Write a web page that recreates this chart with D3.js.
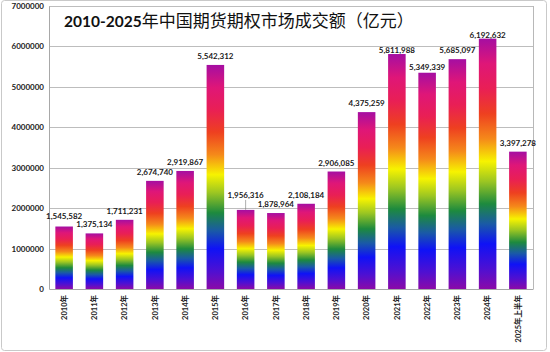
<!DOCTYPE html>
<html>
<head>
<meta charset="utf-8">
<script src="https://cdn.jsdelivr.net/npm/d3@7"></script>
<style>
  html, body { margin: 0; padding: 0; background: #fff; }
  svg { display: block; }
</style>
</head>
<body>
<div id="chart"></div>
<script>
// 年份（横轴）
const years = ["2010年", "2011年", "2012年", "2013年", "2014年", "2015年", "2016年", "2017年",
  "2018年", "2019年", "2020年", "2021年", "2022年", "2023年", "2024年", "2025年上半年"];
// 成交额（亿元）
const turnover = [1545582, 1375134, 1711231, 2674740, 2919867, 5542312, 1956316, 1878964,
  2108184, 2906085, 4375259, 5811988, 5349339, 5685097, 6192632, 3397278];
const yTicks = [0, 1000000, 2000000, 3000000, 4000000, 5000000, 6000000, 7000000];
const titleNum = "2010-2025";
const titleCn = "年中国期货期权市场成交额（亿元）";

const W = 550, H = 352;
const margin = { top: 6, right: 17, bottom: 63, left: 49 };
const w = W - margin.left - margin.right;
const h = H - margin.top - margin.bottom;

const svg = d3.select("#chart").append("svg")
  .attr("width", W).attr("height", H);

// 外框
svg.append("rect")
  .attr("x", 1.5).attr("y", 0.5).attr("width", 545).attr("height", 350)
  .attr("rx", 3)
  .attr("fill", "#fff").attr("stroke", "#c9c9c9");

// 彩虹渐变（按每根柱子自身高度拉伸）
const grad = svg.append("defs").append("linearGradient")
  .attr("id", "rainbow")
  .attr("x1", 0).attr("y1", 0).attr("x2", 0).attr("y2", 1);
[
  [0, "#a50ea2"], [0.1, "#df1678"], [0.2, "#e91f55"], [0.3, "#ee4020"],
  [0.4, "#f5891a"], [0.49, "#f7f300"], [0.57, "#9cc622"], [0.66, "#1d8a3e"],
  [0.74, "#1a5aa6"], [0.82, "#0f12f6"], [0.92, "#4e10d2"], [1, "#8a0aa8"]
].forEach(([o, c]) => grad.append("stop").attr("offset", o).attr("stop-color", c));

const g = svg.append("g").attr("transform", `translate(${margin.left},${margin.top})`);

const x = d3.scaleBand().domain(years).range([0, w]).paddingInner(0.42).paddingOuter(0.21);
const y = d3.scaleLinear().domain([0, 7000000]).range([h, 0]);

// 网格线
g.append("g").selectAll("line")
  .data(yTicks.slice(1))
  .join("line")
  .attr("x1", 0).attr("x2", w)
  .attr("y1", d => Math.round(y(d)) + 0.5).attr("y2", d => Math.round(y(d)) + 0.5)
  .attr("stroke", "#bdbdbd");

// 右边框
g.append("line")
  .attr("x1", w + 0.5).attr("x2", w + 0.5).attr("y1", 0).attr("y2", h)
  .attr("stroke", "#b8b8b8");

// 柱子
g.selectAll(".bar")
  .data(years)
  .join("rect")
  .attr("class", "bar")
  .attr("x", d => x(d))
  .attr("width", x.bandwidth())
  .attr("y", (d, i) => y(turnover[i]))
  .attr("height", (d, i) => h - y(turnover[i]))
  .attr("fill", "url(#rainbow)");

// Y 轴
const yAxis = g.append("g")
  .call(d3.axisLeft(y).tickValues(yTicks).tickFormat(d3.format("d")).tickSize(0).tickPadding(5));
yAxis.select(".domain").attr("stroke", "#a8a8a8");
yAxis.selectAll("text")
  .attr("font-family", "Lato, 'DejaVu Sans', sans-serif")
  .attr("font-weight", "bold").attr("font-size", 8).attr("fill", "#222");

// X 轴
const xAxis = g.append("g")
  .attr("transform", `translate(0,${h})`)
  .call(d3.axisBottom(x).tickSize(0).tickPadding(0));
xAxis.select(".domain").attr("stroke", "#a8a8a8");
xAxis.selectAll("text")
  .attr("font-family", "Lato, 'Noto Sans CJK SC', sans-serif")
  .attr("font-weight", "bold").attr("font-size", 7.5).attr("fill", "#222")
  .attr("text-anchor", "end")
  .attr("dy", "0.35em")
  .attr("transform", "translate(0,6) rotate(-90)")
  .attr("x", 0).attr("y", 0);

// 数据标签（个别标签微调）
const labelShift = { "2016年": -6, "2021年": 5, "2022年": 3, "2024年": 5, "2010年": -2 };
const fmt = d3.format(",");
g.selectAll(".lbl")
  .data(years)
  .join("text")
  .attr("class", "lbl")
  .attr("x", d => x(d) + x.bandwidth() / 2)
  .attr("y", (d, i) => y(turnover[i]) - 6 + (labelShift[d] || 0))
  .attr("text-anchor", "middle")
  .attr("font-family", "Lato, 'DejaVu Sans', sans-serif")
  .attr("font-weight", "bold").attr("font-size", 8).attr("fill", "#1a1a1a")
  .text((d, i) => fmt(turnover[i]));

// 2016 引导线
const i16 = years.indexOf("2016年");
g.append("line")
  .attr("x1", x(years[i16]) + x.bandwidth() / 2).attr("x2", x(years[i16]) + x.bandwidth() / 2)
  .attr("y1", y(turnover[i16]) - 10).attr("y2", y(turnover[i16]))
  .attr("stroke", "#777").attr("stroke-width", 0.6);

// 标题
const title = svg.append("text")
  .attr("x", 64).attr("y", 27)
  .attr("fill", "#111");
title.append("tspan")
  .attr("font-family", "Lato, 'DejaVu Sans', sans-serif")
  .attr("font-weight", "bold").attr("font-size", 15.5)
  .text(titleNum);
title.append("tspan")
  .attr("font-family", "'Noto Sans CJK SC', sans-serif")
  .attr("font-size", 17)
  .text(titleCn);
</script>
</body>
</html>
